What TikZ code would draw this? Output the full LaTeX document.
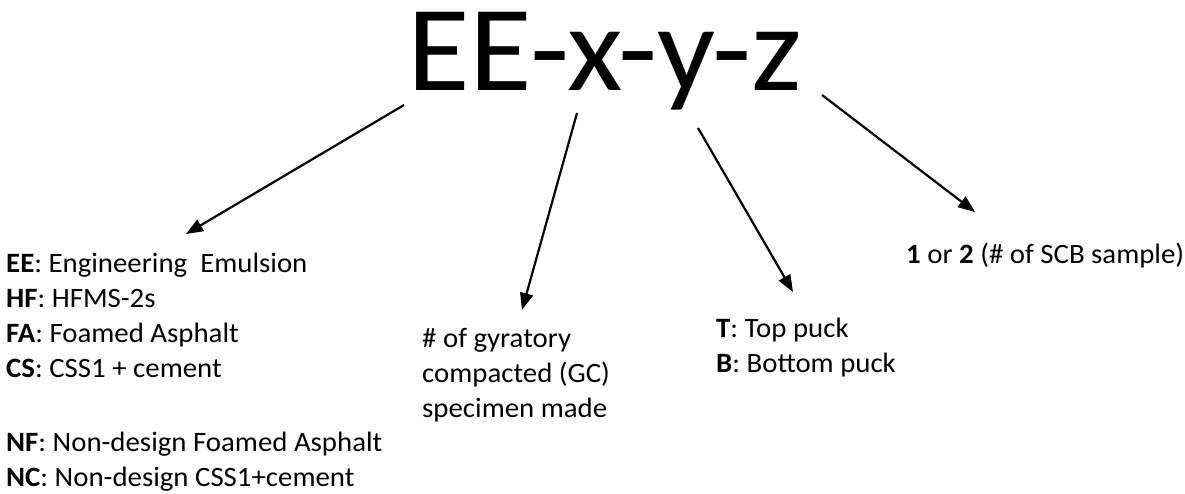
\documentclass[tikz,border=0pt]{standalone}
\usepackage{fontspec}
\setmainfont{Carlito}[FakeStretch=1.03]
\newfontfamily\titlefont{Carlito}[FakeStretch=1.05]
\usetikzlibrary{arrows.meta}
\tikzset{
  lbl/.style={anchor=base west, inner sep=0pt, font=\fontsize{28}{35}\selectfont},
  arr/.style={line width=2.2pt, -{Triangle[length=17pt,width=13pt]}}
}
\begin{document}
\begin{tikzpicture}[x=1pt,y=1pt]
\useasboundingbox (0,0) rectangle (1185,-493);
\node[anchor=base west, inner sep=0pt, font=\titlefont\fontsize{122}{122}\selectfont] (title) at (407,-90) {EE-x-y-z};
\node[lbl] (mat) at (6,-272) {\begin{tabular}[t]{@{}l@{}}
\textbf{EE}: Engineering\ \ Emulsion\\
\textbf{HF}: HFMS-2s\\
\textbf{FA}: Foamed Asphalt\\
\textbf{CS}: CSS1 + cement\\[39pt]
\textbf{NF}: Non-design Foamed Asphalt\\
\textbf{NC}: Non-design CSS1+cement
\end{tabular}};
\node[lbl] (gc) at (422,-347) {\begin{tabular}[t]{@{}l@{}}
\# of gyratory\\
compacted (GC)\\
specimen made
\end{tabular}};
\node[lbl] (puck) at (716,-337) {\begin{tabular}[t]{@{}l@{}}
\textbf{T}: Top puck\\
\textbf{B}: Bottom puck
\end{tabular}};
\node[lbl] (scb) at (906,-263) {\textbf{1} or \textbf{2} (\# of SCB sample)};
\coordinate (s1) at (404,-105); \coordinate (e1) at (186,-234);
\coordinate (s2) at (577,-113); \coordinate (e2) at (522,-310);
\coordinate (s3) at (698,-128); \coordinate (e3) at (793,-292);
\coordinate (s4) at (822,-95);  \coordinate (e4) at (975,-212);
\draw[arr] (s1) -- (e1);
\draw[arr] (s2) -- (e2);
\draw[arr] (s3) -- (e3);
\draw[arr] (s4) -- (e4);
\end{tikzpicture}
\end{document}
